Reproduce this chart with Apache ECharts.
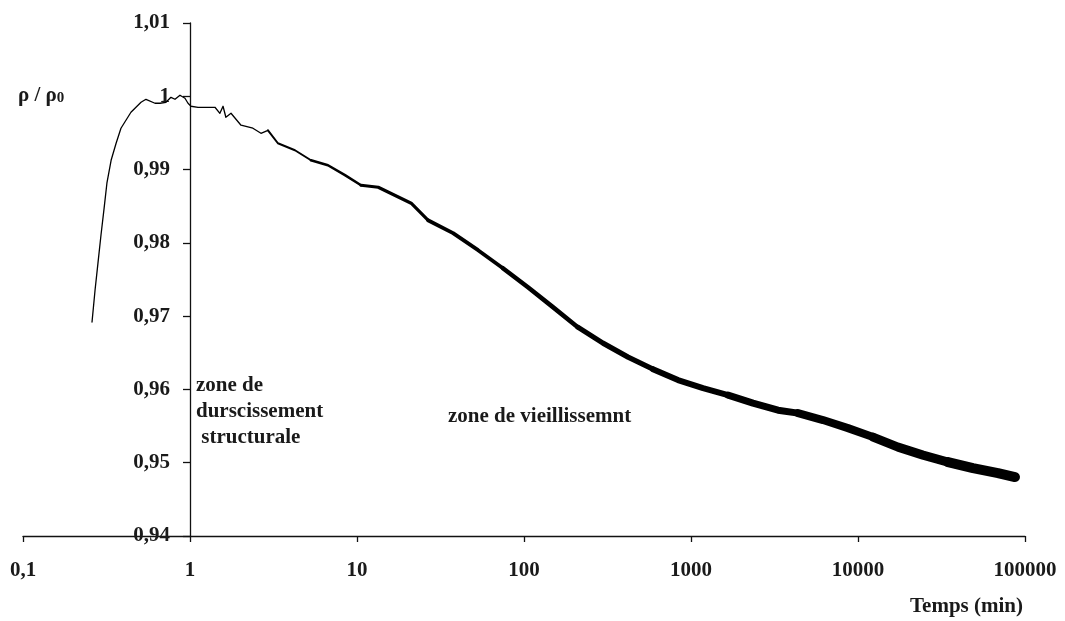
<!DOCTYPE html>
<html><head><meta charset="utf-8">
<script src="https://cdn.jsdelivr.net/npm/echarts@6/dist/echarts.min.js"></script>
<style>html,body{margin:0;padding:0;background:#fff}#c{width:1065px;height:621px}</style>
</head><body><div id="c"></div>
<script>
// time (min) and normalised density rho/rho0
const timeMin = [0.259, 0.270, 0.281, 0.293, 0.306, 0.318, 0.337, 0.361, 0.386, 0.443,
  0.509, 0.545, 0.617, 0.661, 0.718, 0.769, 0.813, 0.871, 0.933, 0.973,
  1.014, 1.117, 1.411, 1.51, 1.577, 1.64, 1.76, 2.02, 2.38, 2.66,
  2.93, 3.36, 4.25, 5.30, 6.70, 8.47, 10.57, 13.4, 21.1, 26.6,
  37.6, 53.1, 74.8, 105.6, 149, 210, 297, 420, 592, 836,
  1180, 1667, 2350, 3321, 4374, 6170, 8710, 12300, 17370, 24500,
  34600, 48800, 68900, 87100];
const rhoRatio = [0.9692, 0.97354, 0.9772, 0.98104, 0.98473, 0.98814, 0.99127, 0.99359, 0.99564, 0.99782,
  0.99918, 0.99959, 0.99905, 0.99905, 0.99918, 0.99986, 0.99959, 1.00014, 0.99973, 0.99905,
  0.99864, 0.9985, 0.9985, 0.99768, 0.99864, 0.99714, 0.99768, 0.99605, 0.99564, 0.99495,
  0.99536, 0.99359, 0.99264, 0.99127, 0.99059, 0.98923, 0.98786, 0.98759, 0.98541, 0.98309,
  0.98132, 0.97900, 0.97654, 0.97395, 0.97123, 0.96850, 0.96632, 0.96441, 0.96277, 0.96127,
  0.96018, 0.95922, 0.95813, 0.95717, 0.95677, 0.95582, 0.95472, 0.95350, 0.95213, 0.95104,
  0.95009, 0.94927, 0.94859, 0.94804];
const xTickLabels = ['0,1', '1', '10', '100', '1000', '10000', '100000'];
const yTickLabels = ['0,94', '0,95', '0,96', '0,97', '0,98', '0,99', '1', '1,01'];
const yAxisTitle = 'ρ / ρ';
const xAxisTitle = 'Temps (min)';
const zoneLeft = ['zone de', 'durscissement', ' structurale'];
const zoneRight = 'zone de vieillissemnt';

// the measured trace gets noisier (thicker) with time: split by time range for line width
const segEnds = [2.93, 5.30, 10.57, 26.6, 74.8, 210, 592, 1667, 4374, 12300, 34600, Infinity];
const segWidths = [1.3, 2, 2.6, 3.2, 3.8, 4.5, 5.2, 6, 7, 8, 9, 10];

const FONT = '"Liberation Serif", "Times New Roman", serif';
const chart = echarts.init(document.getElementById('c'));
const G = {left: 23, right: 40, top: 23, bottom: 85};
const gridW = 1065 - G.left - G.right;
const decades = Math.log10(100000) - Math.log10(0.1);
const yOffset = -gridW * (Math.log10(1) - Math.log10(0.1)) / decades;

const series = [];
let start = 0;
segEnds.forEach((end, k) => {
  const pts = [];
  for (let i = 0; i < timeMin.length; i++) {
    if (timeMin[i] >= start && timeMin[i] <= end) pts.push([timeMin[i], rhoRatio[i]]);
  }
  series.push({
    type: 'line', data: pts, showSymbol: false, symbol: 'none', silent: true,
    lineStyle: {color: '#000', width: segWidths[k], join: 'round', cap: 'round'},
    z: 3
  });
  start = end;
});

const lbl = (v) => {
  const s = String(Number(Number(v).toPrecision(6)));
  const i = ['0.1','1','10','100','1000','10000','100000'].indexOf(s);
  return i >= 0 ? xTickLabels[i] : '';
};
const ylbl = (v) => {
  const i = Math.round((v - 0.94) / 0.01);
  return yTickLabels[i] !== undefined ? yTickLabels[i] : '';
};

chart.setOption({
  animation: false,
  backgroundColor: '#fff',
  grid: G,
  xAxis: {
    type: 'log', logBase: 10, min: 0.1, max: 100000, splitNumber: 6,
    axisLine: {onZero: false, lineStyle: {color: '#111', width: 1.3}},
    axisTick: {show: true, length: 6, lineStyle: {color: '#111', width: 1.3}},
    minorTick: {show: false},
    splitLine: {show: false},
    axisLabel: {formatter: lbl, margin: 24, color: '#1a1a1a', fontFamily: FONT, fontWeight: 'bold', fontSize: 21,
      showMinLabel: true, showMaxLabel: true}
  },
  yAxis: {
    type: 'value', min: 0.94, max: 1.01, interval: 0.01,
    offset: yOffset,
    axisLine: {show: true, onZero: false, lineStyle: {color: '#111', width: 1.3}},
    axisTick: {show: true, length: 7, lineStyle: {color: '#111', width: 1.3}},
    splitLine: {show: false},
    axisLabel: {formatter: ylbl, margin: 20, color: '#1a1a1a', fontFamily: FONT, fontWeight: 'bold', fontSize: 21}
  },
  graphic: [
    {type: 'text', left: 18, top: 85, z: 10, style: {
      text: '{a|' + yAxisTitle + '}{s|0}',
      rich: {a: {fontFamily: FONT, fontWeight: 'bold', fontSize: 21, fill: '#1a1a1a'},
             s: {fontFamily: FONT, fontWeight: 'bold', fontSize: 15, fill: '#1a1a1a', padding: [6, 0, 0, 0]}}
    }},
    {type: 'text', right: 42, top: 596, z: 10, style: {
      text: xAxisTitle, font: 'bold 21px ' + FONT, fill: '#1a1a1a'
    }},
    {type: 'text', left: 196, top: 373, z: 10, style: {
      text: zoneLeft.join('\n'), font: 'bold 21px ' + FONT, fill: '#1a1a1a', lineHeight: 26
    }},
    {type: 'text', left: 448, top: 406, z: 10, style: {
      text: zoneRight, font: 'bold 21px ' + FONT, fill: '#1a1a1a'
    }}
  ],
  series: series
});
</script></body></html>
